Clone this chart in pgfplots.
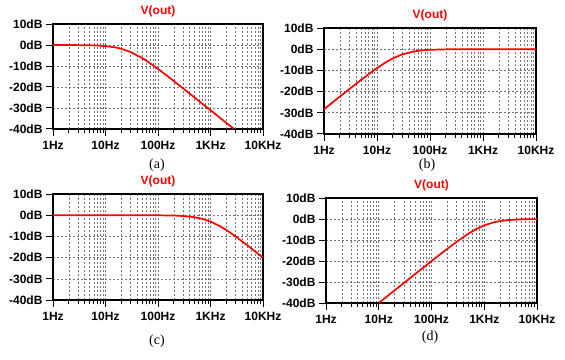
\documentclass[border=0pt]{standalone}
\usepackage{fontspec}
\setmainfont{Liberation Sans}
\newfontfamily\capfont{Liberation Serif}
\newfontfamily\tickfont{Liberation Sans Bold}
\usepackage{pgfplots}
\pgfplotsset{compat=1.18}
\begin{document}
\begin{tikzpicture}
\path (0pt,0pt) rectangle (565pt,359pt);
\begin{semilogxaxis}[name=a, at={(53pt,230pt)}, anchor=south west,
    scale only axis, width=210pt, height=105pt,
    xmin=1, xmax=10000, ymin=-40, ymax=10,
    xtick={1,10,100,1000,10000},
    xticklabels={\textbf{1Hz},\textbf{10Hz},\textbf{100Hz},\textbf{1KHz},\textbf{10KHz}},
    ytick={-40,-30,-20,-10,0,10},
    yticklabels={\textbf{-40dB},\textbf{-30dB},\textbf{-20dB},\textbf{-10dB},\textbf{0dB},\textbf{10dB}},
    ticklabel style={font=\fontsize{12}{12}\selectfont},
    xticklabel style={yshift=-2pt},
    tick align=outside, tick pos=left,
    major tick length=7pt, minor tick length=4pt,
    tick style={black, line width=1pt},
    axis line style={black, line width=1.3pt},
    grid=both,
    major grid style={black!55, dash pattern=on 2pt off 2pt, line width=0.6pt},
    minor grid style={black!55, dash pattern=on 2pt off 2pt, line width=0.6pt},
    title={\textbf{V(out)}},
    title style={font=\fontsize{12}{12}\selectfont, text=red, yshift=-3pt}]
\addplot[red, line width=1.7pt, mark=none] coordinates {(1,-0.0055) (2,-0.022) (3,-0.05) (5,-0.136) (7,-0.263) (10,-0.521) (15,-1.095) (20,-1.79) (30,-3.32) (50,-6.22) (70,-8.60) (100,-11.38) (150,-14.73) (200,-17.16) (300,-20.64) (500,-25.05) (700,-27.97) (1000,-31.06) (1500,-34.58) (2000,-37.08) (2800,-40.0)};
\end{semilogxaxis}
\begin{semilogxaxis}[name=b, at={(324pt,225pt)}, anchor=south west,
    scale only axis, width=212pt, height=106pt,
    xmin=1, xmax=10000, ymin=-40, ymax=10,
    xtick={1,10,100,1000,10000},
    xticklabels={\textbf{1Hz},\textbf{10Hz},\textbf{100Hz},\textbf{1KHz},\textbf{10KHz}},
    ytick={-40,-30,-20,-10,0,10},
    yticklabels={\textbf{-40dB},\textbf{-30dB},\textbf{-20dB},\textbf{-10dB},\textbf{0dB},\textbf{10dB}},
    ticklabel style={font=\fontsize{12}{12}\selectfont},
    xticklabel style={yshift=-2pt},
    tick align=outside, tick pos=left,
    major tick length=7pt, minor tick length=4pt,
    tick style={black, line width=1pt},
    axis line style={black, line width=1.3pt},
    grid=both,
    major grid style={black!55, dash pattern=on 2pt off 2pt, line width=0.6pt},
    minor grid style={black!55, dash pattern=on 2pt off 2pt, line width=0.6pt},
    title={\textbf{V(out)}},
    title style={font=\fontsize{12}{12}\selectfont, text=red, yshift=-3pt}]
\addplot[red, line width=1.7pt, mark=none] coordinates {(1,-28.31) (1.5,-24.79) (2,-22.30) (3,-18.81) (5,-14.48) (7,-11.70) (10,-8.90) (15,-6.02) (20,-4.30) (30,-2.43) (50,-1.04) (70,-0.56) (100,-0.284) (200,-0.073) (500,-0.012) (1000,-0.003) (10000,0)};
\end{semilogxaxis}
\begin{semilogxaxis}[name=c, at={(53pt,59pt)}, anchor=south west,
    scale only axis, width=210pt, height=106pt,
    xmin=1, xmax=10000, ymin=-40, ymax=10,
    xtick={1,10,100,1000,10000},
    xticklabels={\textbf{1Hz},\textbf{10Hz},\textbf{100Hz},\textbf{1KHz},\textbf{10KHz}},
    ytick={-40,-30,-20,-10,0,10},
    yticklabels={\textbf{-40dB},\textbf{-30dB},\textbf{-20dB},\textbf{-10dB},\textbf{0dB},\textbf{10dB}},
    ticklabel style={font=\fontsize{12}{12}\selectfont},
    xticklabel style={yshift=-2pt},
    tick align=outside, tick pos=left,
    major tick length=7pt, minor tick length=4pt,
    tick style={black, line width=1pt},
    axis line style={black, line width=1.3pt},
    grid=both,
    major grid style={black!55, dash pattern=on 2pt off 2pt, line width=0.6pt},
    minor grid style={black!55, dash pattern=on 2pt off 2pt, line width=0.6pt},
    title={\textbf{V(out)}},
    title style={font=\fontsize{12}{12}\selectfont, text=red, yshift=-3pt}]
\addplot[red, line width=1.7pt, mark=none] coordinates {(1,0) (10,0) (100,-0.043) (200,-0.17) (300,-0.374) (500,-0.97) (700,-1.73) (1000,-3.01) (1500,-5.12) (2000,-6.99) (3000,-10.0) (5000,-14.15) (7000,-16.99) (10000,-20.04)};
\end{semilogxaxis}
\begin{semilogxaxis}[name=d, at={(326pt,56pt)}, anchor=south west,
    scale only axis, width=211pt, height=105pt,
    xmin=1, xmax=10000, ymin=-40, ymax=10,
    xtick={1,10,100,1000,10000},
    xticklabels={\textbf{1Hz},\textbf{10Hz},\textbf{100Hz},\textbf{1KHz},\textbf{10KHz}},
    ytick={-40,-30,-20,-10,0,10},
    yticklabels={\textbf{-40dB},\textbf{-30dB},\textbf{-20dB},\textbf{-10dB},\textbf{0dB},\textbf{10dB}},
    ticklabel style={font=\fontsize{12}{12}\selectfont},
    xticklabel style={yshift=-2pt},
    tick align=outside, tick pos=left,
    major tick length=7pt, minor tick length=4pt,
    tick style={black, line width=1pt},
    axis line style={black, line width=1.3pt},
    grid=both,
    major grid style={black!55, dash pattern=on 2pt off 2pt, line width=0.6pt},
    minor grid style={black!55, dash pattern=on 2pt off 2pt, line width=0.6pt},
    title={\textbf{V(out)}},
    title style={font=\fontsize{12}{12}\selectfont, text=red, yshift=-3pt}]
\addplot[red, line width=1.7pt, mark=none] coordinates {(10,-40.0) (15,-36.48) (20,-33.98) (30,-30.46) (50,-26.03) (70,-23.12) (100,-20.04) (150,-16.57) (200,-14.15) (300,-10.83) (500,-6.99) (700,-4.83) (1000,-3.01) (1500,-1.60) (2000,-0.97) (3000,-0.46) (5000,-0.17) (7000,-0.088) (10000,-0.043)};
\end{semilogxaxis}
\node[font=\capfont\fontsize{14}{14}\selectfont] at (157pt,194pt) {(a)};
\node[font=\capfont\fontsize{14}{14}\selectfont] at (427pt,194pt) {(b)};
\node[font=\capfont\fontsize{14}{14}\selectfont] at (157pt,18pt) {(c)};
\node[font=\capfont\fontsize{14}{14}\selectfont] at (430pt,22pt) {(d)};
\end{tikzpicture}
\end{document}
